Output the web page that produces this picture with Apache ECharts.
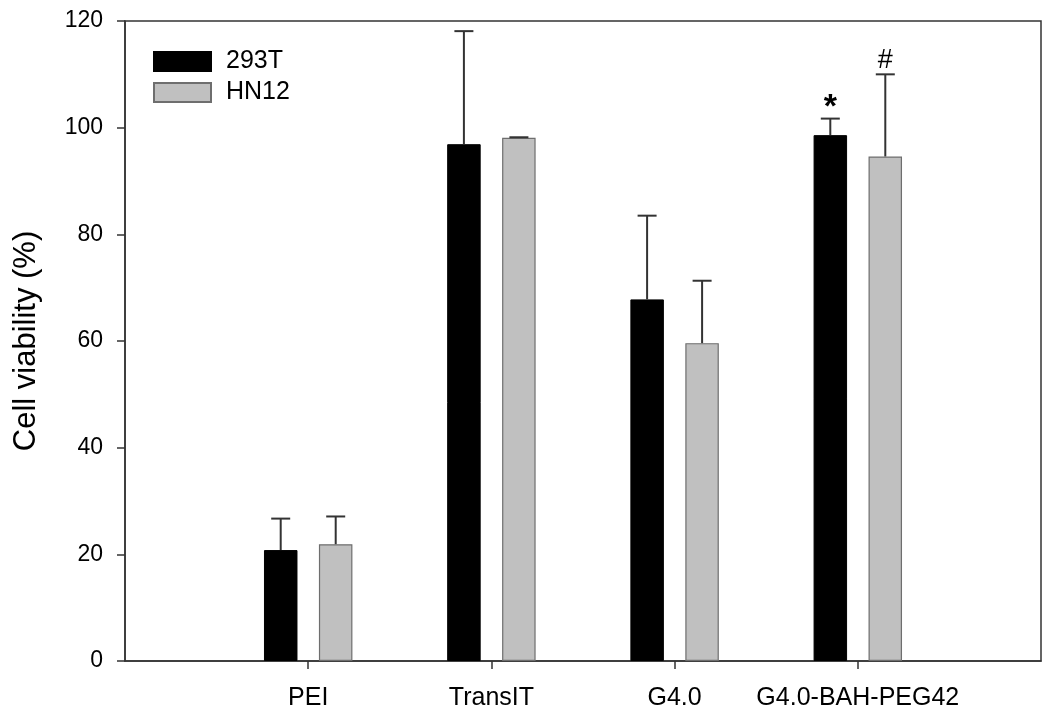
<!DOCTYPE html>
<html>
<head>
<meta charset="utf-8">
<script src="https://cdn.jsdelivr.net/npm/echarts@6/dist/echarts.min.js"></script>
<style>html,body{margin:0;padding:0;background:#fff}#c{width:1050px;height:716px}</style>
</head>
<body>
<div id="c"></div>
<script>
const categories = ['PEI', 'TransIT', 'G4.0', 'G4.0-BAH-PEG42'];
const positions = [1, 2, 3, 4];
const yTicks = [0, 20, 40, 60, 80, 100, 120];
const mean293T = [20.8, 96.9, 67.8, 98.6];
const sd293T = [5.9, 21.2, 15.7, 3.1];
const note293T = ['', '', '', '*'];
const meanHN12 = [21.9, 98.1, 59.6, 94.6];
const sdHN12 = [5.2, 0.1, 11.7, 15.4];
const noteHN12 = ['', '', '', '#'];

const FONT = '"Liberation Sans", Arial, Helvetica, sans-serif';
const BAR_W = 33.5;
const OFFSET = 27.5;

function errSeries(name, means, sds, notes, offset, noteStyle) {
  return {
    type: 'custom',
    name: name + ' err',
    z: 5,
    silent: true,
    data: positions.map((p, i) => [p, means[i], means[i] + sds[i], notes[i]]),
    renderItem: function (params, api) {
      const base = api.coord([api.value(0), api.value(1)]);
      const top = api.coord([api.value(0), api.value(2)]);
      const cx = base[0] + offset;
      const children = [
        { type: 'line', shape: { x1: cx, y1: base[1], x2: cx, y2: top[1] },
          style: { stroke: '#333', lineWidth: 2 } },
        { type: 'line', shape: { x1: cx - 9.5, y1: top[1], x2: cx + 9.5, y2: top[1] },
          style: { stroke: '#333', lineWidth: 2 } }
      ];
      const note = notes[params.dataIndex];
      if (note) {
        children.push({ type: 'text', x: cx, y: top[1] - noteStyle.gap,
          style: { text: note, fill: '#000', font: noteStyle.font, align: 'center', verticalAlign: 'middle' } });
      }
      return { type: 'group', children: children };
    }
  };
}

const chart = echarts.init(document.getElementById('c'));
chart.setOption({
  animation: false,
  backgroundColor: '#fff',
  textStyle: { fontFamily: FONT },
  grid: { left: 125, right: 9, top: 21, bottom: 55, show: true, borderColor: '#333', borderWidth: 1.5, backgroundColor: 'transparent' },
  legend: {
    orient: 'vertical', left: 153, top: 49, padding: 0,
    itemWidth: 57, itemHeight: 19, itemGap: 6, icon: 'rect',
    data: ['293T', 'HN12'],
    textStyle: { fontSize: 25, color: '#000', fontFamily: FONT, padding: [0, 0, 0, 10] }
  },
  xAxis: {
    type: 'value', min: 0, max: 5, interval: 1,
    axisLine: { show: true, lineStyle: { color: '#333', width: 1.5 } },
    axisTick: { show: true, length: 8, customValues: positions, lineStyle: { color: '#333', width: 1.5 } },
    axisLabel: { customValues: positions, formatter: v => categories[Math.round(v) - 1] || '',
      fontSize: 25, color: '#000', margin: 25, fontFamily: FONT },
    splitLine: { show: false }
  },
  yAxis: {
    type: 'value', min: yTicks[0], max: yTicks[yTicks.length - 1], interval: 20,
    name: 'Cell viability (%)', nameLocation: 'middle', nameGap: 83,
    nameTextStyle: { fontSize: 31, color: '#000', fontFamily: FONT },
    axisLine: { show: true, lineStyle: { color: '#333', width: 1.5 } },
    axisTick: { show: true, length: 8, lineStyle: { color: '#333', width: 1.5 } },
    axisLabel: { fontSize: 23, color: '#000', margin: 22, fontFamily: FONT },
    splitLine: { show: false }
  },
  series: [
    { type: 'bar', name: '293T', barWidth: BAR_W, barGap: '64%',
      data: positions.map((p, i) => [p, mean293T[i]]),
      itemStyle: { color: '#000', borderColor: '#000', borderWidth: 1 } },
    { type: 'bar', name: 'HN12', barWidth: BAR_W, barGap: '64%',
      data: positions.map((p, i) => [p, meanHN12[i]]),
      itemStyle: { color: '#c0c0c0', borderColor: '#6e6e6e', borderWidth: 1.2 } },
    errSeries('293T', mean293T, sd293T, note293T, -OFFSET, { font: 'bold 34px ' + FONT, gap: 11 }),
    errSeries('HN12', meanHN12, sdHN12, noteHN12, OFFSET, { font: '27px ' + FONT, gap: 14 })
  ]
});
</script>
</body>
</html>
